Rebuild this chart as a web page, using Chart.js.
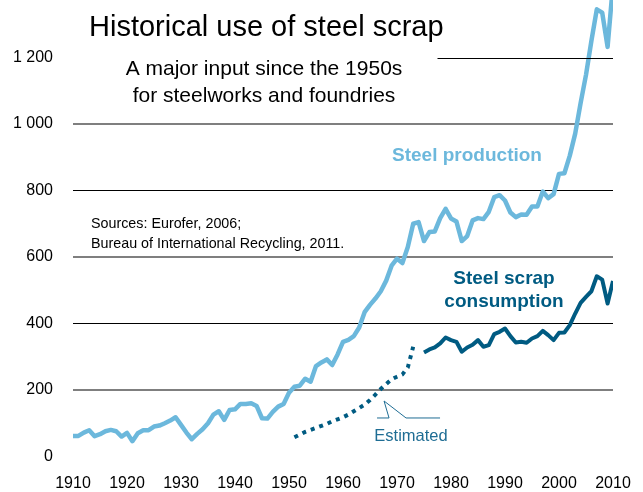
<!DOCTYPE html>
<html>
<head>
<meta charset="utf-8">
<script src="https://cdn.jsdelivr.net/npm/chart.js@4.4.0/dist/chart.umd.min.js"></script>
<style>
    html, body { margin: 0; padding: 0; background: #fff; }
</style>
</head>
<body>
<canvas id="steel-chart" width="643" height="492"></canvas>
<script>
// world steel production, million tonnes
var prodYears = [
    1910, 1911, 1912, 1913, 1914, 1915, 1916, 1917, 1918, 1919,
    1920, 1921, 1922, 1923, 1924, 1925, 1926, 1927, 1928, 1929,
    1930, 1931, 1932, 1933, 1934, 1935, 1936, 1937, 1938, 1939,
    1940, 1941, 1942, 1943, 1944, 1945, 1946, 1947, 1948, 1949,
    1950, 1951, 1952, 1953, 1954, 1955, 1956, 1957, 1958, 1959,
    1960, 1961, 1962, 1963, 1964, 1965, 1966, 1967, 1968, 1969,
    1970, 1971, 1972, 1973, 1974, 1975, 1976, 1977, 1978, 1979,
    1980, 1981, 1982, 1983, 1984, 1985, 1986, 1987, 1988, 1989,
    1990, 1991, 1992, 1993, 1994, 1995, 1996, 1997, 1998, 1999,
    2000, 2001, 2002, 2003, 2004, 2005, 2006, 2007, 2008, 2009, 2010
];
var production = [
    62, 62, 72, 79, 61, 67, 76, 80, 76, 60,
    71, 46, 70, 79, 79, 90, 93, 100, 108, 118,
    95, 72, 52, 68, 82, 100, 126, 136, 110, 140,
    142, 158, 158, 160, 152, 115, 114, 134, 150, 158,
    192, 210, 213, 234, 225, 272, 283, 292, 275, 307,
    345, 351, 362, 388, 434, 456, 475, 497, 529, 574,
    595, 582, 630, 700, 705, 648, 675, 677, 717, 745,
    716, 707, 648, 663, 710, 717, 714, 736, 780, 786,
    770, 734, 720, 728, 727, 752, 752, 797, 777, 789,
    850, 852, 905, 971, 1063, 1148, 1250, 1345, 1335, 1232, 1420
];

// scrap consumption, estimated part (dotted)
var estYears = [
    1951, 1952, 1953, 1954, 1955, 1956, 1957, 1958, 1959, 1960,
    1961, 1962, 1963, 1964, 1965, 1966, 1967, 1968, 1969, 1970,
    1971, 1972, 1973
];
var scrapEstimated = [
    58, 66, 74, 80, 86, 92, 98, 106, 112, 118,
    126, 136, 146, 156, 170, 186, 203, 218, 232, 240,
    247, 268, 330
];

// scrap consumption, reported
var scrapYears = [
    1975, 1976, 1977, 1978, 1979, 1980, 1981, 1982, 1983, 1984,
    1985, 1986, 1987, 1988, 1989, 1990, 1991, 1992, 1993, 1994,
    1995, 1996, 1997, 1998, 1999, 2000, 2001, 2002, 2003, 2004,
    2005, 2006, 2007, 2008, 2009, 2010
];
var scrapConsumption = [
    313, 322, 328, 340, 358, 350, 345, 315, 328, 336,
    350, 330, 335, 368, 375, 385, 362, 343, 345, 342,
    355, 362, 378, 365, 350, 372, 373, 395, 430, 462,
    480, 497, 542, 532, 460, 528
];

var yTicks = [0, 200, 400, 600, 800, 1000, 1200];
var xTicks = [1910, 1920, 1930, 1940, 1950, 1960, 1970, 1980, 1990, 2000, 2010];

var FONT = '"Liberation Sans", Arial, sans-serif';
var LIGHT_BLUE = '#6cb8dc';
var DARK_TEAL = '#005b82';

function toPoints(xs, ys) {
    var pts = [];
    for (let i = 0; i < xs.length; i++) {
        pts.push({ x: xs[i], y: ys[i] });
    }
    return pts;
}

function fmt(v) {
    // thousands with a space: 1 200
    return v >= 1000 ? Math.floor(v / 1000) + ' ' + String(v % 1000).padStart(3, '0') : String(v);
}

var textPlugin = {
    id: 'steelText',
    afterDatasetsDraw: function(chart) {
        var c = chart.ctx, y = chart.scales.y, x = chart.scales.x;
        // the 1200 line only runs right of the title
        c.save();
        c.strokeStyle = '#000';
        c.lineWidth = 1;
        var py = Math.round(y.getPixelForValue(1200)) + 0.5;
        c.beginPath();
        c.moveTo(x.getPixelForValue(1977.5), py);
        c.lineTo(chart.chartArea.right, py);
        c.stroke();
        c.restore();
    },
    afterDraw: function(chart) {
        var c = chart.ctx, x = chart.scales.x, y = chart.scales.y;
        c.save();
        c.textBaseline = 'alphabetic';

        c.fillStyle = '#000';
        c.textAlign = 'left';
        c.font = '29px ' + FONT;
        c.fillText('Historical use of steel scrap', 89, 36);

        c.textAlign = 'center';
        c.font = '21px ' + FONT;
        c.fillText('A major input since the 1950s', 264, 75);
        c.fillText('for steelworks and foundries', 264, 102);

        c.textAlign = 'left';
        c.font = '14.3px ' + FONT;
        c.fillText('Sources: Eurofer, 2006;', 91, 228);
        c.fillText('Bureau of International Recycling, 2011.', 91, 248);

        c.textAlign = 'center';
        c.font = 'bold 19px ' + FONT;
        c.fillStyle = LIGHT_BLUE;
        c.fillText('Steel production', 467, 161);
        c.fillStyle = DARK_TEAL;
        c.fillText('Steel scrap', 504, 284);
        c.fillText('consumption', 504, 307);

        // callout for the estimated part
        var tx = x.getPixelForValue(1967.6), ty = y.getPixelForValue(167);
        c.strokeStyle = '#1f6d94';
        c.lineWidth = 1;
        c.beginPath();
        c.moveTo(tx, ty);
        c.lineTo(tx + 5, ty + 17);
        c.lineTo(tx - 7, ty + 17);
        c.moveTo(tx, ty);
        c.lineTo(tx + 22, ty + 17);
        c.lineTo(tx + 56, ty + 17);
        c.stroke();

        c.fillStyle = '#1f6d94';
        c.font = '16.5px ' + FONT;
        c.fillText('Estimated', 411, 441);
        c.restore();
    }
};

function drawChart() {
    var ctx = document.getElementById('steel-chart');
    new Chart(ctx, {
        type: 'line',
        data: {
            datasets: [{
                label: 'Steel production',
                data: toPoints(prodYears, production),
                borderColor: LIGHT_BLUE,
                borderWidth: 4.5,
                borderJoinStyle: 'round',
                pointRadius: 0,
                tension: 0
            }, {
                label: 'Estimated',
                data: toPoints(estYears, scrapEstimated),
                borderColor: DARK_TEAL,
                borderWidth: 4,
                borderDash: [4, 5],
                borderCapStyle: 'butt',
                pointRadius: 0,
                tension: 0
            }, {
                label: 'Steel scrap consumption',
                data: toPoints(scrapYears, scrapConsumption),
                borderColor: DARK_TEAL,
                borderWidth: 4,
                borderJoinStyle: 'round',
                pointRadius: 0,
                tension: 0
            }]
        },
        options: {
            responsive: false,
            animation: false,
            layout: { padding: { left: 0, right: 30, top: 0, bottom: 0 } },
            plugins: {
                legend: { display: false },
                tooltip: { enabled: false }
            },
            scales: {
                x: {
                    type: 'linear',
                    min: 1910,
                    max: 2010,
                    afterFit: function(s) {
                        s.height = 35.5;
                        s.paddingLeft = 0;
                        s.paddingRight = 0;
                    },
                    afterBuildTicks: function(s) { s.ticks = xTicks.map(function(v) { return { value: v }; }); },
                    grid: { display: false, drawTicks: false },
                    border: { display: false },
                    ticks: {
                        padding: 17,
                        color: '#000',
                        font: { family: FONT, size: 16 },
                        maxRotation: 0,
                        callback: function(v) { return String(v); }
                    }
                },
                y: {
                    min: 0,
                    max: 1373,
                    z: 1,
                    afterFit: function(s) {
                        s.width = 73;
                        s.paddingTop = 0;
                        s.paddingBottom = 0;
                    },
                    afterBuildTicks: function(s) { s.ticks = yTicks.map(function(v) { return { value: v }; }); },
                    border: { display: false },
                    grid: {
                        drawTicks: false,
                        color: function(c) {
                            var v = c.tick.value;
                            if (v === 0 || v === 1200) return 'rgba(0,0,0,0)';
                            return v % 400 === 0 ? '#000' : 'rgba(0,0,0,0.5)';
                        },
                        lineWidth: function(c) {
                            return c.tick.value % 400 === 0 ? 1 : 2;
                        }
                    },
                    ticks: {
                        padding: 20,
                        color: '#000',
                        font: { family: FONT, size: 16 },
                        callback: function(v) { return fmt(v); }
                    }
                }
            }
        },
        plugins: [textPlugin]
    });
}

drawChart();
</script>
</body>
</html>
